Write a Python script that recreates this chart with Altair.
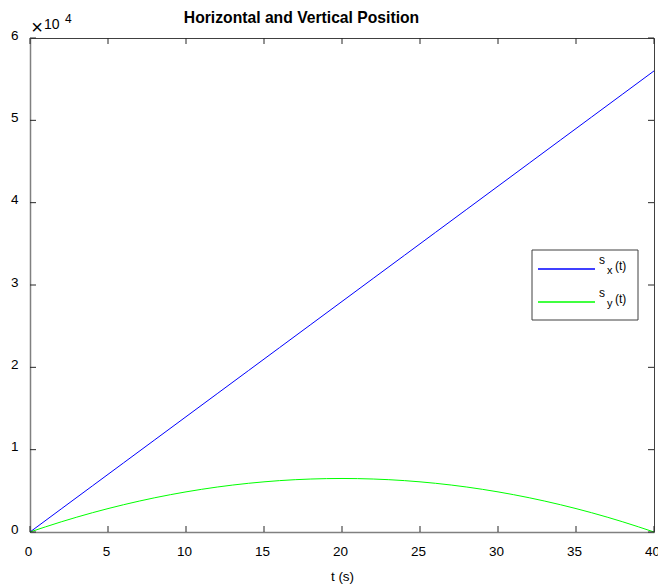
import altair as alt
import pandas as pd

# ---- data ----
t_values = [0, 2, 4, 6, 8, 10, 12, 14, 16, 18, 20, 22, 24, 26, 28, 30, 32, 34, 36, 38, 40]
sx_values = [0, 2800, 5600, 8400, 11200, 14000, 16800, 19600, 22400, 25200, 28000,
             30800, 33600, 36400, 39200, 42000, 44800, 47600, 50400, 53200, 56000]
sy_values = [0, 1235, 2340, 3315, 4160, 4875, 5460, 5915, 6240, 6435, 6500,
             6435, 6240, 5915, 5460, 4875, 4160, 3315, 2340, 1235, 0]
series_names = ["s_x(t)", "s_y(t)"]
series_colors = ["#0000ff", "#00ff00"]
x_tick_values = [0, 5, 10, 15, 20, 25, 30, 35, 40]
y_tick_values = [0, 10000, 20000, 30000, 40000, 50000, 60000]
title_text = "Horizontal and Vertical Position"
x_title = "t (s)"
multiplier_sign = "×"
multiplier_base = "10"
multiplier_exp = "4"
legend_base = ["s", "s"]
legend_sub = ["x", "y"]
legend_tail = "(t)"

W, H = 624, 494
FONT = "Liberation Sans"
TICK_COLOR = "#262626"

df = pd.DataFrame({
    "t": t_values * 2,
    "value": sx_values + sy_values,
    "series": [series_names[0]] * len(t_values) + [series_names[1]] * len(t_values),
})

xscale = alt.Scale(domain=[0, 40], nice=False, zero=False)
yscale = alt.Scale(domain=[0, 60000], nice=False, zero=False)

x_axis = alt.Axis(
    values=x_tick_values, tickSize=0, grid=False, labelFont=FONT, labelFontSize=13.5,
    labelColor="black", labelPadding=12, labelFlush=False, labelOverlap=False,
    labelOffset=-2, domainColor="#808080", domainWidth=1.5,
    title=x_title, titleFont=FONT, titleFontSize=13.5, titleFontWeight="normal",
    titleColor="black", titlePadding=12)
y_axis = alt.Axis(
    values=y_tick_values, tickSize=0, grid=False, labelFont=FONT, labelFontSize=13.5,
    labelColor="black", labelPadding=12, labelFlush=False, labelOverlap=False,
    labelOffset=-3, domainColor="#808080", domainWidth=1.5,
    labelExpr="datum.value / 10000", title="")

lines = alt.Chart(df).mark_line(strokeWidth=1, interpolate="monotone").encode(
    x=alt.X("t:Q", scale=xscale, axis=x_axis),
    y=alt.Y("value:Q", scale=yscale, axis=y_axis),
    color=alt.Color("series:N", scale=alt.Scale(domain=series_names, range=series_colors),
                    legend=None),
    detail="series:N",
)

xt = pd.DataFrame({"t": x_tick_values})
yt = pd.DataFrame({"value": y_tick_values})
tick_len = 6
ticks_bottom = alt.Chart(xt).mark_rule(color=TICK_COLOR, strokeWidth=1).encode(
    x=alt.X("t:Q", scale=xscale, axis=x_axis), y=alt.value(H), y2=alt.value(H - tick_len))
ticks_top = alt.Chart(xt).mark_rule(color=TICK_COLOR, strokeWidth=1).encode(
    x=alt.X("t:Q", scale=xscale, axis=x_axis), y=alt.value(0), y2=alt.value(tick_len))
ticks_left = alt.Chart(yt).mark_rule(color=TICK_COLOR, strokeWidth=1).encode(
    y=alt.Y("value:Q", scale=yscale, axis=y_axis), x=alt.value(0), x2=alt.value(tick_len))
ticks_right = alt.Chart(yt).mark_rule(color=TICK_COLOR, strokeWidth=1).encode(
    y=alt.Y("value:Q", scale=yscale, axis=y_axis), x=alt.value(W), x2=alt.value(W - tick_len))


def text_layer(txt, x, y, size, weight="normal", align="left", baseline="alphabetic"):
    return alt.Chart(pd.DataFrame({"label": [txt]})).mark_text(
        font=FONT, fontSize=size, fontWeight=weight, align=align, baseline=baseline,
        color="black").encode(text="label:N", x=alt.value(x), y=alt.value(y))


title = text_layer(title_text, 271.5, -15, 15.7, weight="bold", align="center")
mult_sign = text_layer(multiplier_sign, 7, -10, 20, align="center", baseline="middle")
mult_base = text_layer(multiplier_base, 14, -9, 14)
mult_exp = text_layer(multiplier_exp, 35, -15, 12)

legend_box = alt.Chart(pd.DataFrame({"k": [0]})).mark_rect(
    fill="white", stroke="#404040", strokeWidth=1).encode(
    x=alt.value(502), x2=alt.value(608), y=alt.value(212), y2=alt.value(282))

legend_layers = [legend_box]
for i, ly in enumerate([231, 264]):
    legend_layers.append(
        alt.Chart(pd.DataFrame({"k": [0]})).mark_rule(
            strokeWidth=1.3, color=series_colors[i], opacity=1).encode(
            x=alt.value(508), x2=alt.value(565), y=alt.value(ly)))
    legend_layers.append(text_layer(legend_base[i], 569, ly - 5, 12))
    legend_layers.append(text_layer(legend_sub[i], 577, ly + 5, 11))
    legend_layers.append(text_layer(legend_tail, 585, ly + 1, 12))

chart = alt.layer(
    lines, ticks_bottom, ticks_top, ticks_left, ticks_right, title,
    mult_sign, mult_base, mult_exp, *legend_layers
).properties(
    width=W, height=H,
    autosize=alt.AutoSizeParams(type="none"),
    padding={"left": 30, "top": 38, "right": 4, "bottom": 53},
    background="white",
).configure_view(stroke="#404040", strokeWidth=1)

chart.save("out.html", embed_options={"renderer": "svg", "actions": False})
